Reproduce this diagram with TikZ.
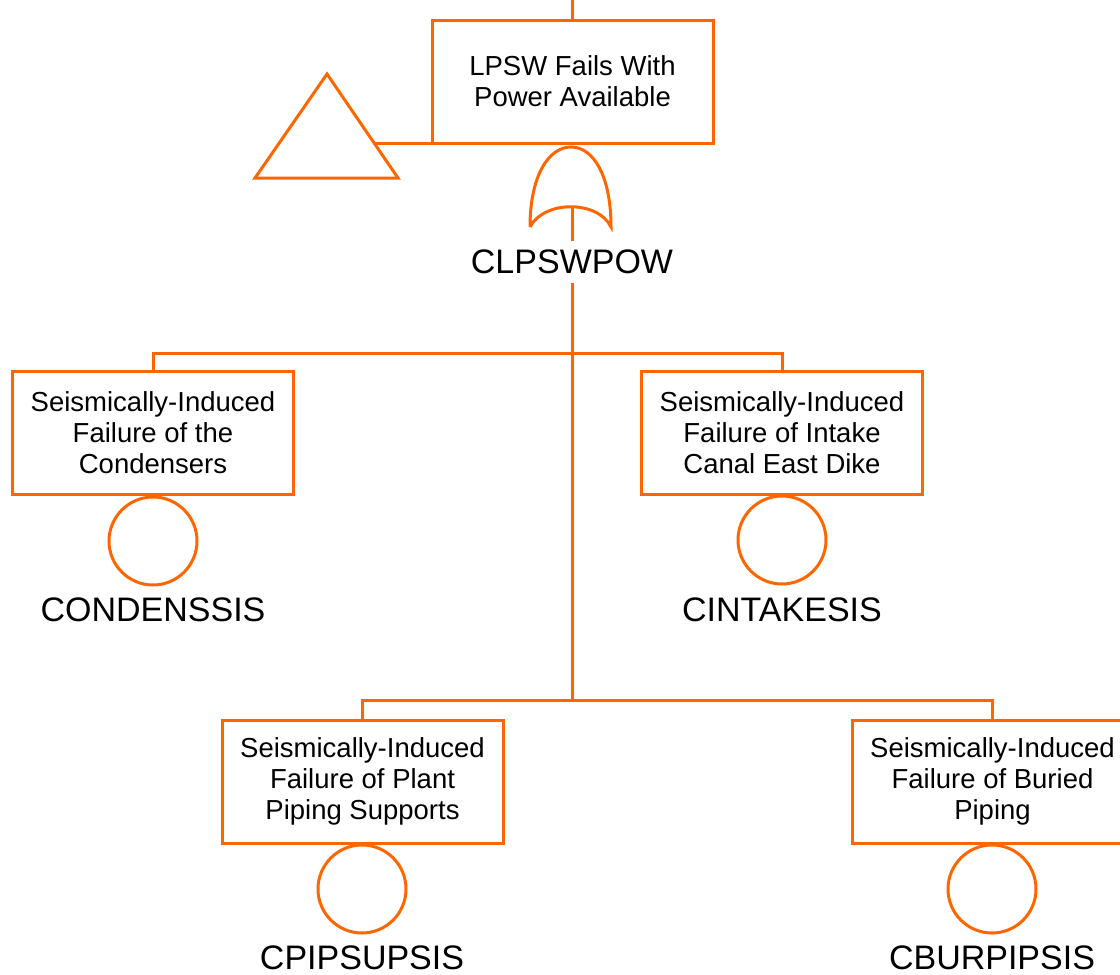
\documentclass[tikz,border=0pt]{standalone}
\usepackage{fontspec}
\setmainfont{Liberation Sans}
\definecolor{arancio}{RGB}{255,102,0}
\tikzset{
  evento/.style={draw=arancio, line width=3pt, minimum width=281pt, minimum height=123pt,
    inner sep=0pt, align=center, font=\fontsize{27.5}{31}\selectfont},
  base/.style={draw=arancio, line width=3pt, circle, minimum size=88pt, inner sep=0pt},
  sigla/.style={font=\fontsize{34}{40}\selectfont, minimum height=42pt, inner sep=0pt},
  linea/.style={draw=arancio, line width=3pt}
}
\begin{document}
\begin{tikzpicture}[x=1pt,y=-1pt]
        \useasboundingbox (0,0) rectangle (1120,975);

        % Evento principale
        \node[evento] (top) at (572.5,81.5) {LPSW Fails With\\Power Available};
        \coordinate (in) at (572.5,0);
        \draw[linea] (in) -- (top.north);

        % Triangolo di trasferimento
        \draw[linea, line join=miter] (255,178) -- (327,74) -- (398,178) -- cycle;
        \coordinate (tri) at (374.5,143);
        \draw[linea] (tri) -- (tri -| top.west);

        % Porta OR
        \draw[linea] (530,227) .. controls (530,175) and (549,147) .. (571,147)
            .. controls (593,147) and (611,175) .. (611,227)
            .. controls (598,200) and (544,200) .. (530,227);
        \coordinate (or) at (572,207);
        \node[sigla] (g1) at (572,262) {CLPSWPOW};
        \draw[linea] (or) -- (g1.north);

        % Primo livello
        \node[evento] (b1) at (153,432.5) {Seismically-Induced\\Failure of the\\Condensers};
        \node[evento] (b2) at (782,432.5) {Seismically-Induced\\Failure of Intake\\Canal East Dike};
        \coordinate (j1) at (572,353);
        \coordinate (j2) at (572,700);
        \draw[linea] (g1.south) -- (j2);
        \draw[linea] (b1.north) |- (j1) -| (b2.north);

        \node[base] (c1) at (153,541) {};
        \node[base] (c2) at (782,540) {};
        \node[sigla] (s1) at (153,610) {CONDENSSIS};
        \node[sigla] (s2) at (782,610) {CINTAKESIS};

        % Secondo livello
        \node[evento] (b3) at (362.5,781.5) {Seismically-Induced\\Failure of Plant\\Piping Supports};
        \node[evento] (b4) at (992.5,781.5) {Seismically-Induced\\Failure of Buried\\Piping};
        \draw[linea] (b3.north) |- (j2) -| (b4.north);

        \node[base] (c3) at (362,889) {};
        \node[base] (c4) at (992,889) {};
        \node[sigla] (s3) at (362,958) {CPIPSUPSIS};
        \node[sigla] (s4) at (992,958) {CBURPIPSIS};
    \end{tikzpicture}
\end{document}
